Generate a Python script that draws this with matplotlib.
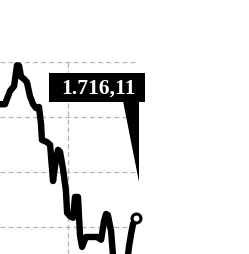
import matplotlib
matplotlib.use("Agg")
import matplotlib.pyplot as plt
from matplotlib.patches import Rectangle, Polygon

# sessions and closing values
sessions = [0, 2.2, 4.4, 6.2, 7.5, 8.4, 9.3, 10.6, 11.9, 13.2, 14.6, 15.9, 17.2, 18.1,
            18.5, 20.7, 22.1, 23.4, 24.7, 25.6, 26.5, 27.8, 29.1, 29.6, 30.9, 32.2,
            33.1, 34.4, 35.3, 36.2, 37.9, 40.6, 42.8, 44.6, 45.9, 46.8, 47.6, 49.0,
            49.9, 51.6, 53.8, 56.0, 56.9, 57.8, 58.7, 60]
values = [1923, 1923, 1947, 1956, 1994, 1993, 1973, 1969, 1963, 1938, 1923, 1916, 1918, 1887,
          1858, 1854, 1849, 1783, 1823, 1840, 1836, 1805, 1765, 1725, 1719, 1716,
          1754, 1754, 1684, 1663, 1681, 1681, 1681, 1676, 1710, 1723, 1721, 1692,
          1645, 1614, 1605, 1632, 1663, 1686, 1705, 1716.11]
y_grid = [1700, 1800, 1900, 2000]
x_grid = [30]
last_label = "1.716,11"

W, H = 249, 255
fig = plt.figure(figsize=(W / 100, H / 100), dpi=100)
ax = fig.add_axes([0, 0, 136 / W, 192 / H])

ax.plot(sessions, values, color="black", lw=4.6, solid_joinstyle="round",
        solid_capstyle="round", clip_on=False, zorder=3)
ax.plot(sessions[-1], values[-1], "o", ms=6.4, mfc="white", mec="black", mew=2.2,
        clip_on=False, zorder=4)

ax.set_xlim(0, 60)
ax.set_ylim(1650, 2000)
ax.set_yticks(y_grid)
ax.set_xticks(x_grid)
ax.grid(True, color="#b3b3b3", lw=0.9, ls=(0, (4, 2.5)))
ax.tick_params(length=0, labelleft=False, labelbottom=False)
for s in ax.spines.values():
    s.set_visible(False)

# callout box with the last value
def fp(x, y):
    return (x / W, 1 - y / H)

fig.patches.append(Rectangle(fp(49, 103), 96 / W, 29 / H, transform=fig.transFigure,
                             facecolor="black", edgecolor="none", zorder=5))
fig.patches.append(Polygon([fp(123, 102), fp(138.5, 102), fp(138.5, 183)],
                           transform=fig.transFigure, facecolor="black",
                           edgecolor="none", zorder=5))
fig.text(*fp(98, 89), last_label, color="white", fontsize=15.5, fontweight="bold",
         family="Liberation Serif", ha="center", va="center", zorder=6)

fig.savefig("out.png", dpi=100)
